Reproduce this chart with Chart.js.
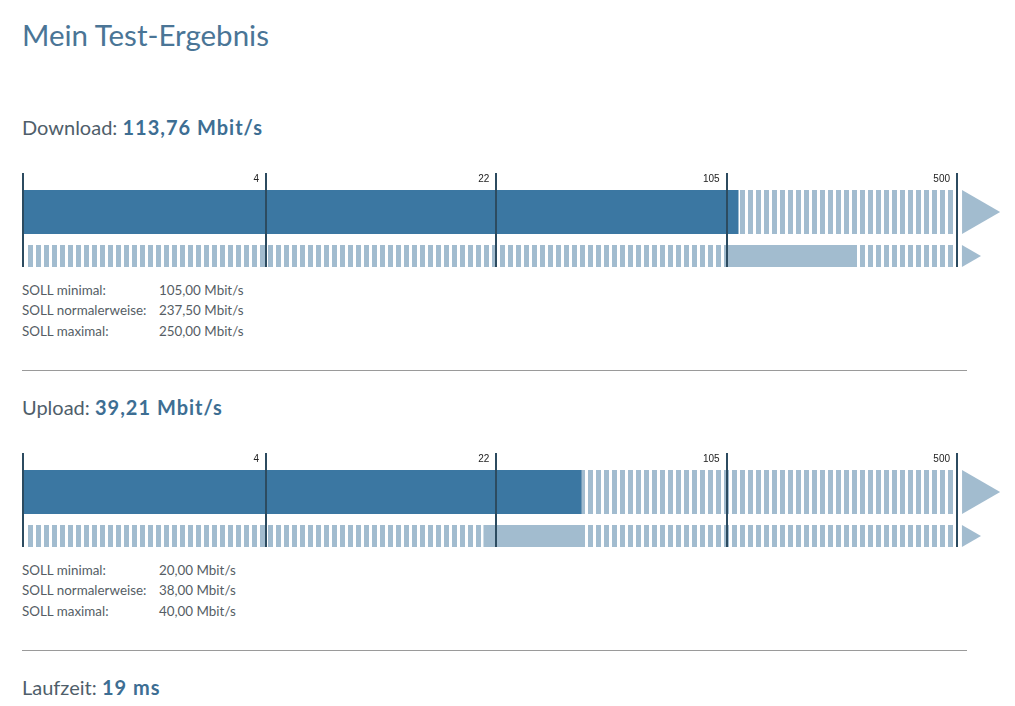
<!DOCTYPE html>
<html>
<head>
<meta charset="utf-8">
<script src="https://cdn.jsdelivr.net/npm/chart.js@4.4.1/dist/chart.umd.min.js"></script>
<style>
  body { margin: 0; width: 1015px; height: 706px; overflow: hidden; position: relative; background: #fff; font-family: Lato, "Open Sans", sans-serif; }
  .title { position: absolute; left: 22px; top: 17px; margin: 0; font-size: 29.5px; line-height: 1.2; font-weight: 400; color: #4a7596; white-space: nowrap; }
  .section { position: absolute; left: 0; width: 1015px; height: 280px; }
  .head { position: absolute; left: 22px; top: 115.3px; font-size: 20px; line-height: 1.2; color: #4f5e6a; white-space: nowrap; }
  .head b { color: #3d6e93; font-weight: 700; letter-spacing: 1px; }
  .chart { position: absolute; left: 0; top: 160px; }
  .soll { position: absolute; left: 22px; top: 279.5px; font-size: 13.4px; line-height: 20.5px; color: #555d64; white-space: nowrap; }
  .soll span { display: inline-block; width: 137px; }
  .rule { position: absolute; left: 22px; top: 370px; width: 945px; height: 1px; background: #9a9a9a; }
</style>
</head>
<body>
<h1 class="title">Mein Test-Ergebnis</h1>
<div id="page"></div>
<script>
// scale breakpoints (Mbit/s) and their labels
const SPEED_TICKS = [0, 4, 22, 105, 500];
const TICK_LABELS = ['', '4', '22', '105', '500'];

// test results
const TESTS = ['Download', 'Upload'];
const MEASURED = [113.76, 39.21];
const SOLL_MIN = [105, 20];
const SOLL_NORMAL = [237.5, 38];
const SOLL_MAX = [250, 40];
const LATENCY_MS = 19;

const DARK = '#3b77a2';
const LIGHT = '#a2bccf';
const TICK_LINE = '#2c4b60';

// every segment between two breakpoints gets the same width (first one a bit wider)
const KNOT_UNITS = [0, 1.055, 2.055, 3.055, 4.055];
const X_MAX = 4.246;

function posOf(v) {
  for (let i = 1; i < SPEED_TICKS.length; i++) {
    const a = SPEED_TICKS[i - 1], b = SPEED_TICKS[i];
    if (v <= b) {
      const f = a === 0 ? v / b : Math.log(v / a) / Math.log(b / a);
      return KNOT_UNITS[i - 1] + f * (KNOT_UNITS[i] - KNOT_UNITS[i - 1]);
    }
  }
  return KNOT_UNITS[KNOT_UNITS.length - 1];
}

const fmt = v => v.toLocaleString('de-DE', { minimumFractionDigits: 2, maximumFractionDigits: 2 });

// striped fill: 5px stripe, 3px gap
function stripePattern(ctx) {
  const c = document.createElement('canvas');
  c.width = 8; c.height = 8;
  const p = c.getContext('2d');
  p.fillStyle = LIGHT;
  p.fillRect(4, 0, 4, 8);
  p.fillRect(0, 0, 1, 8);
  return ctx.createPattern(c, 'repeat');
}

const page = document.getElementById('page');
const end = posOf(500);

TESTS.forEach((name, i) => {
  const sec = document.createElement('div');
  sec.className = 'section';
  sec.style.top = (i * 280) + 'px';
  sec.innerHTML = `
    <div class="head">${name}: <b>${fmt(MEASURED[i])} Mbit/s</b></div>
    <canvas class="chart" width="1015" height="120"></canvas>
    <div class="soll">
      <div><span>SOLL minimal:</span>${fmt(SOLL_MIN[i])} Mbit/s</div>
      <div><span>SOLL normalerweise:</span>${fmt(SOLL_NORMAL[i])} Mbit/s</div>
      <div><span>SOLL maximal:</span>${fmt(SOLL_MAX[i])} Mbit/s</div>
    </div>
    <div class="rule"></div>`;
  page.appendChild(sec);

  const canvas = sec.querySelector('canvas');
  const ctx = canvas.getContext('2d');
  const stripes = stripePattern(ctx);

  new Chart(ctx, {
    type: 'bar',
    data: {
      datasets: [
        { data: [{ x: [0.009, end - 0.017], y: 0 }], backgroundColor: stripes, barThickness: 44, order: 5 },
        { data: [{ x: [0.009, end - 0.017], y: 1 }], backgroundColor: stripes, barThickness: 22, order: 5 },
        { data: [{ x: [0, posOf(MEASURED[i])], y: 0 }], backgroundColor: DARK, barThickness: 44, order: 1 },
        { data: [{ x: [posOf(SOLL_MIN[i]), posOf(SOLL_MAX[i])], y: 1 }], backgroundColor: LIGHT, barThickness: 22, order: 1 },
        { type: 'scatter', data: [{ x: end + 0.077, y: 0 }], pointStyle: 'triangle', rotation: 90,
          pointRadius: 25.4, backgroundColor: LIGHT, borderWidth: 0, clip: false, order: 1 },
        { type: 'scatter', data: [{ x: end + 0.049, y: 1 }], pointStyle: 'triangle', rotation: 90,
          pointRadius: 12.7, backgroundColor: LIGHT, borderWidth: 0, clip: false, order: 1 }
      ]
    },
    options: {
      indexAxis: 'y',
      responsive: false,
      animation: false,
      events: [],
      grouped: false,
      inflateAmount: 0,
      borderWidth: 0,
      layout: { autoPadding: false, padding: { left: 23, right: 14, top: 13, bottom: 13 } },
      plugins: { legend: { display: false }, tooltip: { enabled: false } },
      scales: {
        x: {
          type: 'linear',
          position: 'top',
          min: 0,
          max: X_MAX,
          offset: false,
          z: 1,
          border: { display: false },
          grid: { color: TICK_LINE, lineWidth: 2, drawTicks: false, z: 1, offset: false },
          afterBuildTicks: scale => { scale.ticks = SPEED_TICKS.map(v => ({ value: posOf(v) })); },
          afterFit: scale => { scale.height = 0; },
          ticks: {
            mirror: true,
            padding: 0,
            align: 'end',
            labelOffset: -7,
            autoSkip: false,
            maxRotation: 0,
            color: '#222',
            font: { family: '"Liberation Sans", Arial', size: 10 },
            callback: (v, idx) => TICK_LABELS[idx]
          }
        },
        y: { type: 'linear', reverse: true, min: -0.886, max: 1.25, offset: false, grid: { offset: false }, display: false }
      }
    }
  });
});

const lat = document.createElement('div');
lat.className = 'head';
lat.style.top = (115.3 + 560) + 'px';
lat.innerHTML = `Laufzeit: <b>${LATENCY_MS} ms</b>`;
page.appendChild(lat);
</script>
</body>
</html>
